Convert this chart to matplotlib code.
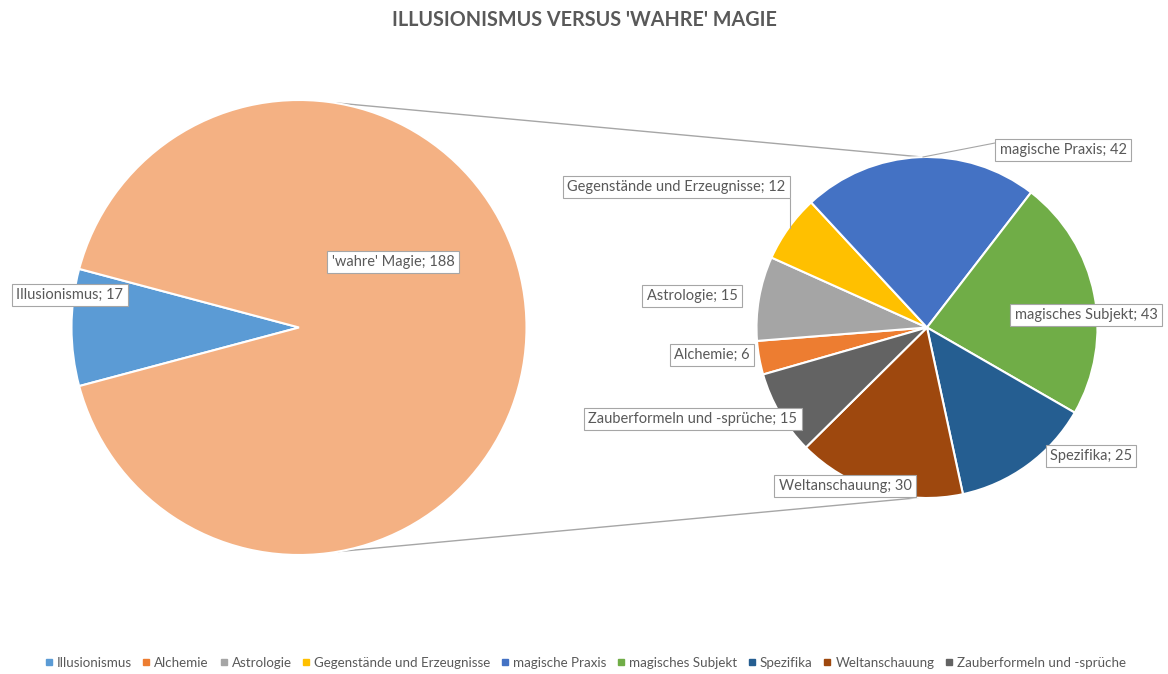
import numpy as np
import matplotlib.pyplot as plt
from matplotlib.lines import Line2D

plt.rcParams['font.family'] = ['Lato', 'DejaVu Sans']

# data
outer_labels = ['Illusionismus', "'wahre' Magie"]
outer_values = [17, 188]
inner_labels = ['Alchemie', 'Astrologie', 'Gegenstände und Erzeugnisse', 'magische Praxis',
                'magisches Subjekt', 'Spezifika', 'Weltanschauung', 'Zauberformeln und -sprüche']
inner_values = [6, 15, 12, 42, 43, 25, 30, 15]

outer_colors = ['#5B9BD5', '#F4B183']
inner_colors = ['#ED7D31', '#A5A5A5', '#FFC000', '#4472C4', '#70AD47', '#255E91', '#9E480E', '#636363']

# layout (pixel coords, y from top)
W, H = 1168, 674
left_c, left_r = (299, 327.5), 227.5
right_c, right_r = (927, 327.5), 170.5
outer_label_pos = [(70, 295), (393, 262)]
inner_label_pos = [(712, 355), (692, 296), (676, 187), (1063, 150),
                   (1086, 315), (1091, 456), (845, 486), (693, 419)]

fig = plt.figure(figsize=(W / 100, H / 100), dpi=100)
ax = fig.add_axes([0, 0, 1, 1])

def pt(p):
    return (p[0], H - p[1])

wp = dict(edgecolor='white', linewidth=1.5)
start_left = 180 + outer_values[0] / sum(outer_values) * 180
ax.pie(outer_values, colors=outer_colors, center=pt(left_c), radius=left_r,
       startangle=start_left, counterclock=False, wedgeprops=wp, frame=True)
ax.pie(inner_values, colors=inner_colors, center=pt(right_c), radius=right_r,
       startangle=196, counterclock=False, wedgeprops=wp, frame=True)

ax.set_xlim(0, W)
ax.set_ylim(0, H)
ax.set_aspect('equal')
ax.axis('off')

# connector lines between the pies
def on_circle(c, r, ang):
    x, y = pt(c)
    a = np.radians(ang)
    return x + r * np.cos(a), y + r * np.sin(a)

line_col = '#A6A6A6'
for a1, a2 in [(81, 91.5), (-80, -93)]:
    p1 = on_circle(left_c, left_r, a1)
    p2 = on_circle(right_c, right_r, a2)
    ax.plot([p1[0], p2[0]], [p1[1], p2[1]], color=line_col, lw=1, zorder=0.5)

# leader lines
ax.plot([995, 923], [H - 143, H - 157], color=line_col, lw=0.8)
ax.plot([790, 790], [H - 199, H - 228], color=line_col, lw=0.8)

box = dict(boxstyle='square,pad=0.3', fc='white', ec='#A6A6A6', lw=0.8)
for name, val, p in zip(outer_labels, outer_values, outer_label_pos):
    ax.text(*pt(p), f'{name}; {val}', ha='center', va='center', fontsize=10.5,
            color='#595959', bbox=box, zorder=5)
for name, val, p in zip(inner_labels, inner_values, inner_label_pos):
    ax.text(*pt(p), f'{name}; {val}', ha='center', va='center', fontsize=10.5,
            color='#595959', bbox=box, zorder=5)

fig.text(0.5, 1 - 20 / H, "ILLUSIONISMUS VERSUS 'WAHRE' MAGIE", ha='center', va='center',
         fontsize=14.2, fontweight='bold', color='#595959')

handles = [Line2D([], [], marker='s', ls='', color=c, markersize=5)
           for c in [outer_colors[0]] + inner_colors]
fig.legend(handles, [outer_labels[0]] + inner_labels, loc='center',
           bbox_to_anchor=(0.5, 1 - 663 / H), ncol=9, frameon=False, fontsize=9.6,
           handletextpad=0.1, columnspacing=0.6, handlelength=1, labelcolor='#595959')

fig.savefig('out.png', dpi=100)
